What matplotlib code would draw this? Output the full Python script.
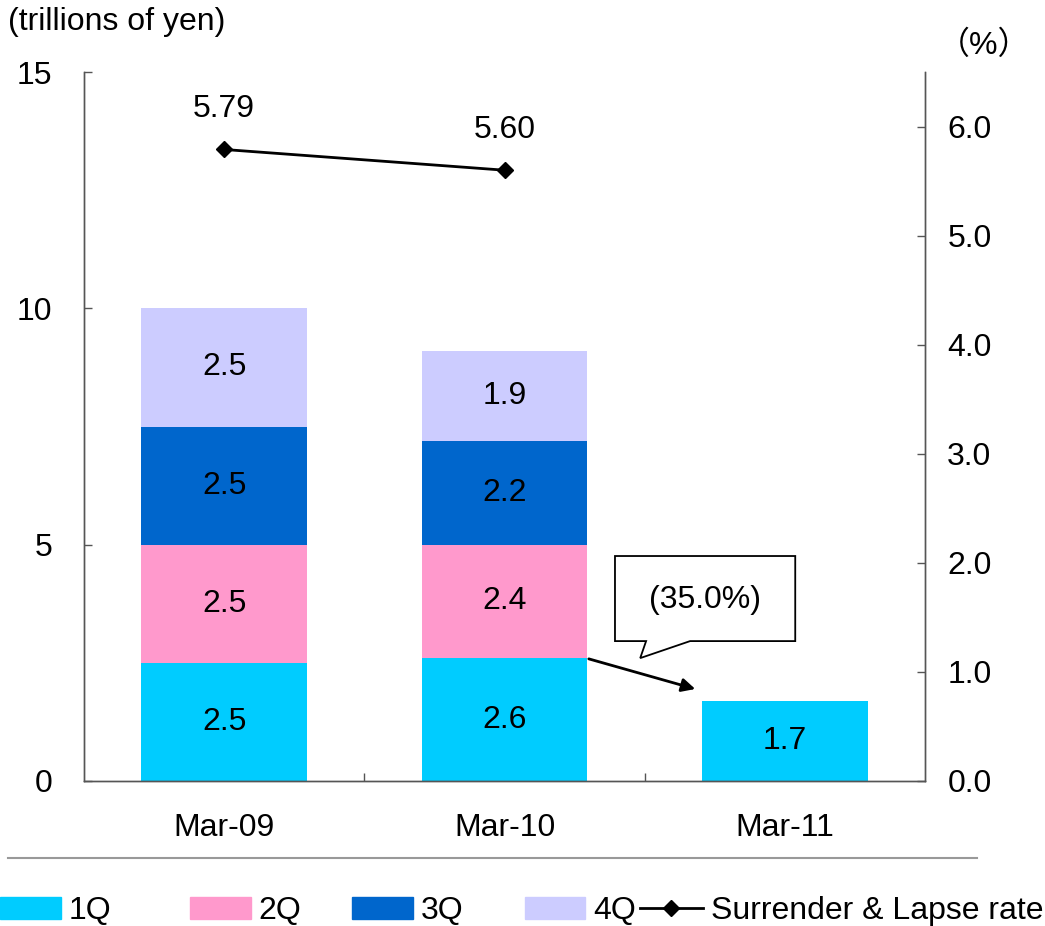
import numpy as np
import matplotlib.pyplot as plt
from matplotlib.patches import Polygon, Patch
from matplotlib.lines import Line2D

plt.rcParams['font.family'] = ['Liberation Sans', 'Noto Sans CJK JP', 'DejaVu Sans']
plt.rcParams['font.size'] = 23

years = ['Mar-09', 'Mar-10', 'Mar-11']
q1 = [2.5, 2.6, 1.7]
q2 = [2.5, 2.4, 0]
q3 = [2.5, 2.2, 0]
q4 = [2.5, 1.9, 0]
rate_years = ['Mar-09', 'Mar-10']
rate = [5.79, 5.60]

quarters = ['1Q', '2Q', '3Q', '4Q']
colors = ['#00CCFF', '#FF99CC', '#0066CC', '#CCCCFF']

fig = plt.figure(figsize=(10.45, 9.26), dpi=100)
ax = fig.add_axes([0.0804, 0.1566, 0.8048, 0.7656])
ax2 = ax.twinx()

x = np.arange(len(years))
width = 0.59
bottom = np.zeros(len(years))
for vals, c in zip([q1, q2, q3, q4], colors):
    vals = np.array(vals)
    ax.bar(x, vals, width, bottom=bottom, color=c, zorder=2)
    for xi, v, b0 in zip(x, vals, bottom):
        if v > 0:
            ax.text(xi, b0 + v / 2, f'{v:.1f}', ha='center', va='center')
    bottom += vals

xr = [years.index(y) for y in rate_years]
line, = ax2.plot(xr, rate, color='black', lw=2, marker='D', ms=8, zorder=3)
for xi, v in zip(xr, rate):
    ax2.text(xi, v + 0.37, f'{v:.2f}', ha='center', va='center')

ax.set_xlim(-0.5, 2.5)
ax.set_ylim(0, 15)
ax2.set_ylim(0, 6.5)
ax.set_yticks([0, 5, 10, 15])
ax2.set_yticks(np.arange(0, 6.1, 1.0))
ax2.set_yticklabels([f'{v:.1f}' for v in np.arange(0, 6.1, 1.0)])

# category labels at centres, tick marks at the boundaries
ax.set_xticks([0.5, 1.5])
ax.set_xticklabels([])
ax.set_xticks(x, minor=True)
ax.set_xticklabels(years, minor=True)
ax.tick_params(axis='x', which='major', direction='in', length=6, width=1, color='#555555')
ax.tick_params(axis='x', which='minor', length=0, pad=23)
ax.tick_params(axis='y', direction='in', length=6, width=1, color='#555555', pad=23)
ax2.tick_params(axis='y', direction='in', length=6, width=1, color='#555555', pad=16)

for a in (ax, ax2):
    a.spines['top'].set_visible(False)
    for s in ('left', 'right', 'bottom'):
        a.spines[s].set_color('#555555')
        a.spines[s].set_linewidth(1)

fig.text(0.008, 0.976, '(trillions of yen)', ha='left', va='center')
fig.text(0.942, 0.951, '（%）', ha='center', va='center')

# speech bubble with the drop in 1Q
bubble = Polygon([(1.394, 4.76), (2.037, 4.76), (2.037, 2.96), (1.662, 2.96),
                  (1.484, 2.60), (1.505, 2.96), (1.394, 2.96)],
                 closed=True, facecolor='white', edgecolor='black', lw=1.3, zorder=4)
ax.add_patch(bubble)
ax.text(1.715, 3.83, '(35.0%)', ha='center', va='center', zorder=5)
ax.annotate('', xy=(1.69, 1.93), xytext=(1.291, 2.60),
            arrowprops=dict(arrowstyle='-|>', color='black', lw=2, mutation_scale=20),
            zorder=5)

# separator line and legend
fig.add_artist(Line2D([0.008, 0.935], [0.073, 0.073], color='#999999', lw=1.5))
handles = [Patch(color=c) for c in colors] + [line]
labels = quarters + ['Surrender & Lapse rate']
xpos = [0.0, 0.182, 0.337, 0.502, 0.612]
for h, l, xp in zip(handles, labels, xpos):
    fig.legend([h], [l], loc='center left', bbox_to_anchor=(xp, 0.016), frameon=False,
               handlelength=1.9 if l != labels[-1] else 2.0, handleheight=0.7,
               handletextpad=0.25, borderaxespad=0, borderpad=0)

fig.savefig('out.png', dpi=100)
